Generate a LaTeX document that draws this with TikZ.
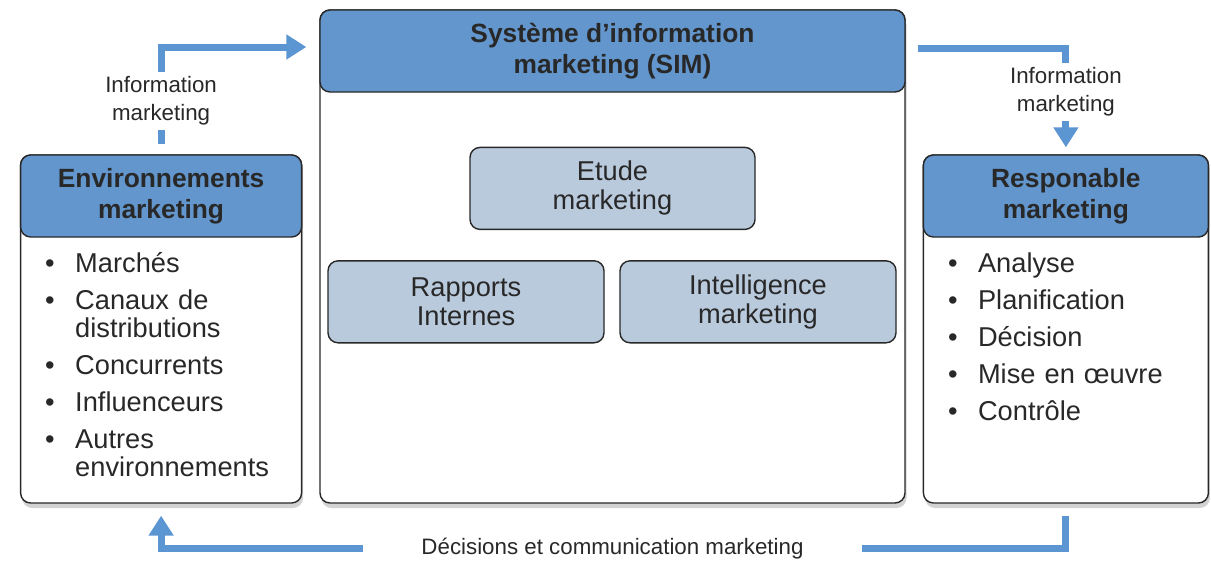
\documentclass[tikz,border=0pt]{standalone}
\usepackage{fontspec}
\setmainfont{Liberation Sans}
\usetikzlibrary{positioning, arrows.meta, shadows}
\definecolor{headblue}{RGB}{98,150,205}
\definecolor{partblue}{RGB}{186,202,221}
\definecolor{flowblue}{RGB}{92,150,210}
\definecolor{ink}{RGB}{40,40,40}
\newcommand{\itm}{\par\parskip=5pt\hangindent=0.6cm\hangafter=1\noindent\makebox[0.6cm][l]{\textbullet}}
\tikzset {
    every node/.style={text=ink},
    body/.style={draw=ink, line width=0.8pt, rounded corners=0.2cm, fill=white,
        drop shadow={opacity=0.35, shadow xshift=0.3mm, shadow yshift=-1mm}},
    head/.style={draw=ink, line width=0.8pt, rounded corners=0.2cm, fill=headblue,
        minimum height=1.64cm, align=center, font=\fontsize{15}{17.5}\selectfont\bfseries},
    part/.style={draw=ink, line width=0.8pt, rounded corners=0.2cm, fill=partblue,
        minimum height=1.64cm, align=center, font=\fontsize{15.5}{16.5}\selectfont},
    list/.style={inner sep=0pt, text width=4.9cm, font=\fontsize{15.5}{16}\selectfont},
    flowline/.style={draw=flowblue, line width=0.14cm},
    flow/.style={flowline, -{Triangle[length=0.4cm, width=0.48cm]}},
    flowtext/.style={inner ysep=2.5pt, align=center, font=\fontsize{12.7}{16}\selectfont}
}
\begin{document}
\begin{tikzpicture}
\useasboundingbox (0,0) rectangle (24.22,-11.2);

\node[body, minimum width=11.7cm, minimum height=9.86cm] (simbody) at (12.25,-5.13) {};
\node[body, minimum width=5.62cm, minimum height=6.96cm, left=0.34cm of simbody.south west, anchor=south east] (envbody) {};
\node[body, minimum width=5.7cm, minimum height=6.96cm, right=0.34cm of simbody.south east, anchor=south west] (respbody) {};

\node[head, minimum width=11.7cm, anchor=north] (simhead) at (simbody.north) {Système d’information\\marketing (SIM)};
\node[head, minimum width=5.62cm, anchor=north] (envhead) at (envbody.north) {Environnements\\marketing};
\node[head, minimum width=5.7cm, anchor=north] (resphead) at (respbody.north) {Responable\\marketing};

\node[part, minimum width=5.7cm, below=1.08cm of simhead] (etude) {Etude\\marketing};
\node[part, minimum width=5.52cm, below=0.6cm of etude, xshift=-2.93cm] (rapports) {Rapports\\Internes};
\node[part, minimum width=5.52cm, below=0.6cm of etude, xshift=2.91cm] (intel) {Intelligence\\marketing};

\node[list, below right=-0.04cm and 0.5cm of envhead.south west] (envlist)
    {\itm Marchés \itm Canaux de\newline distributions \itm Concurrents \itm Influenceurs \itm Autres\newline environnements\par};
\node[list, below right=-0.04cm and 0.5cm of resphead.south west] (resplist)
    {\itm Analyse \itm Planification \itm Décision \itm Mise en œuvre \itm Contrôle\par};

\node[flowtext, above=0.48cm of envhead] (infoin) {Information\\marketing};
\node[flowtext, above=0.66cm of resphead] (infoout) {Information\\marketing};
\node[flowtext, minimum width=9.96cm, below=0.9cm of simbody, anchor=center] (decision) {Décisions et communication marketing};

\draw[flowline] ([yshift=0.2cm]envhead.north) -- (infoin.south);
\draw[flow] (infoin.north) |- ([xshift=-0.26cm, yshift=0.08cm]simhead.west);
\draw[flowline] ([xshift=0.24cm, yshift=0.06cm]simhead.east) -| (infoout.north);
\draw[flow] (infoout.south) -- ([yshift=0.14cm]resphead.north);
\draw[flowline] ([yshift=-0.24cm]respbody.south) |- (decision.east);
\draw[flow] (decision.west) -| ([yshift=-0.24cm]envbody.south);
\end{tikzpicture}
\end{document}
